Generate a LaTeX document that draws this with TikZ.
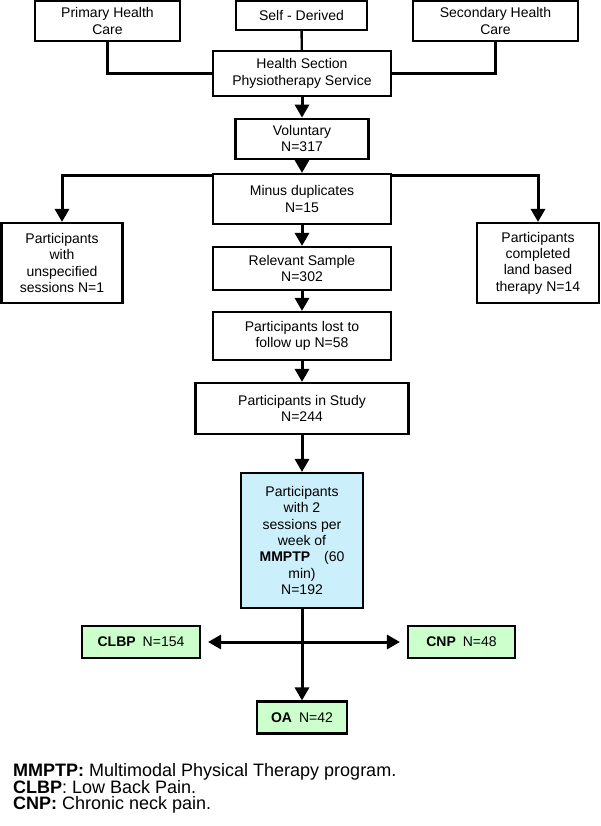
\documentclass[tikz,border=0pt]{standalone}
\usepackage{fontspec}
\setmainfont{Liberation Sans}
\usetikzlibrary{arrows.meta}

\begin{document}
\begin{tikzpicture}[x=1pt, y=-1pt,
    >={Triangle[length=13pt, width=14pt]},
    box/.style={draw, line width=2.1pt, align=center, inner sep=0pt,
      font=\fontsize{14}{16.4}\selectfont},
    cyanbox/.style={box, fill=cyan!20},
    greenbox/.style={box, fill=green!20},
    link/.style={line width=2.4pt},
    flow/.style={line width=3pt, ->},
    legend/.style={anchor=base west, inner sep=0pt,
      font=\fontsize{18}{16.5}\selectfont},
  ]
  \useasboundingbox (0,0) rectangle (600,826);

  % верхний ряд
  \node[box, minimum width=145pt, minimum height=40pt] (prim) at (107.5,21) {Primary Health\\Care};
  \node[box, minimum width=131pt, minimum height=29pt] (self) at (301.5,15.5) {Self - Derived};
  \node[box, minimum width=165pt, minimum height=40pt] (sec) at (495.5,21) {Secondary Health\\Care};
  \node[box, minimum width=178pt, minimum height=45pt] (hs) at (302,73.5) {Health Section\\Physiotherapy Service};

  \draw[link] (prim.south) |- (hs.west);
  \draw[link] (self) -- (hs);
  \draw[link] (sec.south) |- (hs.east);

  % основная цепочка
  \node[box, minimum width=133pt, minimum height=40pt] (vol) at (302,138.7) {Voluntary\\N=317};
  \node[box, minimum width=178pt, minimum height=50pt] (minus) at (302,199) {Minus duplicates\\N=15};
  \node[box, minimum width=121pt, minimum height=80pt] (unsp) at (62,263) {Participants\\with\\unspecified\\sessions N=1};
  \node[box, minimum width=122pt, minimum height=80pt] (land) at (538,263) {Participants\\completed\\land based\\therapy N=14};
  \node[box, minimum width=178pt, minimum height=43pt] (rel) at (302,268.5) {Relevant Sample\\N=302};
  \node[box, minimum width=178pt, minimum height=48pt] (lost) at (302,336) {Participants lost to\\follow up N=58};
  \node[box, minimum width=213pt, minimum height=51pt] (study) at (302,408.5) {Participants in Study\\N=244};
  \node[cyanbox, minimum width=122pt, minimum height=135pt] (mmptp) at (302,540.5)
    {Participants\\with 2\\sessions per\\week of\\\textbf{MMPTP}\hspace{1em}(60\\min)\\N=192};

  \draw[flow] (hs) -- (vol);
  \draw[flow] (vol) -- (minus);
  \draw[flow] ([yshift=-3pt]minus.north west) -| (unsp);
  \draw[flow] ([yshift=-3pt]minus.north east) -| (land);
  \draw[flow] (minus) -- (rel);
  \draw[flow] (rel) -- (lost);
  \draw[flow] (lost) -- (study);
  \draw[flow] (study) -- (mmptp);

  % группы
  \node[greenbox, minimum width=118pt, minimum height=32pt] (clbp) at (141,642) {\textbf{CLBP}\enspace N=154};
  \node[greenbox, minimum width=107pt, minimum height=32pt] (cnp) at (461.5,642) {\textbf{CNP}\enspace N=48};
  \node[greenbox, minimum width=90pt, minimum height=32pt] (oa) at (302,717.5) {\textbf{OA}\enspace N=42};

  \draw[flow] (mmptp) -- (oa);
  \draw[line width=3pt, <->, shorten <=7pt, shorten >=7pt] (clbp) -- (cnp);

  % сокращения
  \node[legend] (leg1) at (13,776.7) {\textbf{MMPTP:} Multimodal Physical Therapy program.};
  \node[legend] (leg2) at (13,793.2) {\textbf{CLBP}: Low Back Pain.};
  \node[legend] (leg3) at (13,809.7) {\textbf{CNP:} Chronic neck pain.};
\end{tikzpicture}
\end{document}
